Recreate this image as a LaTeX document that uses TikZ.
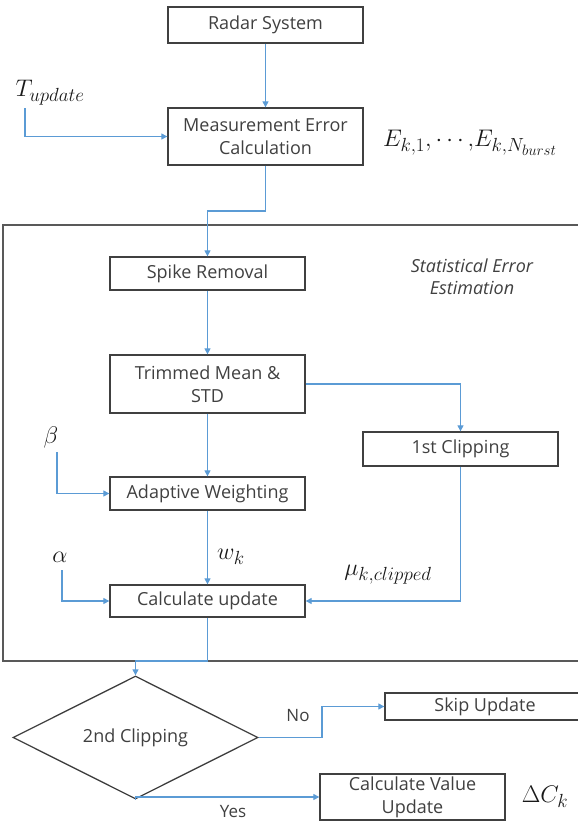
\RequirePackage{fix-cm}
\documentclass[tikz,border=0pt]{standalone}
\usepackage{fontspec}
\setmainfont{Open Sans}
\usetikzlibrary{shapes.geometric,arrows.meta}

% larger scripts for the symbol labels
\DeclareMathSizes{24}{24}{19}{15}

\definecolor{flow}{RGB}{91,155,213}
\definecolor{ink}{RGB}{64,64,64}
\definecolor{framegray}{RGB}{89,89,89}

\tikzset{
  procbox/.style={draw=ink, line width=1.3pt, minimum width=195pt, inner sep=0pt,
    align=center, text=ink, font=\fontsize{18}{23}\selectfont},
  decision/.style={diamond, draw=ink, line width=1.3pt, minimum width=245pt,
    minimum height=65pt, inner sep=0pt, text=ink, font=\fontsize{18}{23}\selectfont},
  flowline/.style={draw=flow, line width=1.1pt},
  flowarrow/.style={flowline, -{Triangle[length=6pt,width=6pt]}},
  mathlbl/.style={inner sep=0pt, text=black!90, font=\fontsize{24}{28}\selectfont},
  plainlbl/.style={inner sep=0pt, text=ink, font=\fontsize{17}{20}\selectfont},
  framebox/.style={draw=framegray, line width=1.8pt}
}

\begin{document}
\begin{tikzpicture}[x=1pt, y=-1pt]
  \useasboundingbox (0,0) rectangle (578,825);
  \clip (0,0) rectangle (578,825);

  % frame of the statistical error estimation stage (open to the right)
  \draw[framebox] (580,225) -- (3,225) -- (3,661) -- (580,661);
  \node[inner sep=0pt, align=center, text=ink, font=\fontsize{18}{22}\itshape] (stat) at (472,277)
    {Statistical Error\\Estimation};

  % process boxes
  \node[procbox, minimum height=36pt] (radar) at (265.5,25) {Radar System};
  \node[procbox, minimum height=57pt] (meas) at (265.5,136.5) {Measurement Error\\Calculation};
  \node[procbox, minimum height=33pt] (spike) at (207.5,273.5) {Spike Removal};
  \node[procbox, minimum height=58pt] (trim) at (207.5,384) {Trimmed Mean \&\\STD};
  \node[procbox, minimum height=34pt] (clip1) at (460.5,449) {1st Clipping};
  \node[procbox, minimum height=33pt] (adapt) at (207.5,493.5) {Adaptive Weighting};
  \node[procbox, minimum height=32pt] (calc) at (207.5,601) {Calculate update};
  \node[decision] (clip2) at (135.5,737.5) {2nd Clipping};
  \node[procbox, minimum height=27pt, minimum width=200pt] (skip) at (485,706.5) {Skip Update};
  \node[procbox, minimum height=46pt, minimum width=185pt] (cvu) at (412.5,797) {Calculate Value\\Update};

  % symbols
  \node[mathlbl] (tup) at (50,93) {$T_{update}$};
  \node[mathlbl] (elist) at (470,143) {$E_{k,1}{,}\cdots{,}E_{k,N_{burst}}$};
  \node[mathlbl] (beta) at (51,437) {$\beta$};
  \node[mathlbl] (alpha) at (60,557) {$\alpha$};
  \node[mathlbl] (wk) at (231,557) {$w_k$};
  \node[mathlbl] (mu) at (388,575) {$\mu_{k,clipped}$};
  \node[mathlbl] (dck) at (545,797) {$\Delta C_k$};
  \node[plainlbl] (nolbl) at (298,716) {No};
  \node[plainlbl] (yeslbl) at (233,812) {Yes};

  % junction points of the connectors
  \coordinate (tupS) at (25,108);
  \coordinate (jogA) at (265.5,211);
  \coordinate (betaS) at (57,452);
  \coordinate (alphaS) at (62,570);
  \coordinate (jogB) at (207.5,661);
  \coordinate (jogNo) at (322,737.5);

  % connectors
  \draw[flowarrow] (radar.south) -- (meas.north);
  \draw[flowarrow] (tupS) |- (meas.west);
  \draw[flowarrow] (meas.south) -- (jogA) -| (spike.north);
  \draw[flowarrow] (spike.south) -- (trim.north);
  \draw[flowarrow] (trim.east) -| (clip1.north);
  \draw[flowarrow] (trim.south) -- (adapt.north);
  \draw[flowarrow] (betaS) |- (adapt.west);
  \draw[flowarrow] (adapt.south) -- (calc.north);
  \draw[flowarrow] (alphaS) |- (calc.west);
  \draw[flowarrow] (clip1.south) |- (calc.east);
  \draw[flowarrow] (calc.south) -- (jogB) -| (clip2.north);
  \draw[flowarrow] (clip2.east) -- (jogNo) |- (skip.west);
  \draw[flowarrow] (clip2.south) |- (cvu.west);
\end{tikzpicture}
\end{document}
